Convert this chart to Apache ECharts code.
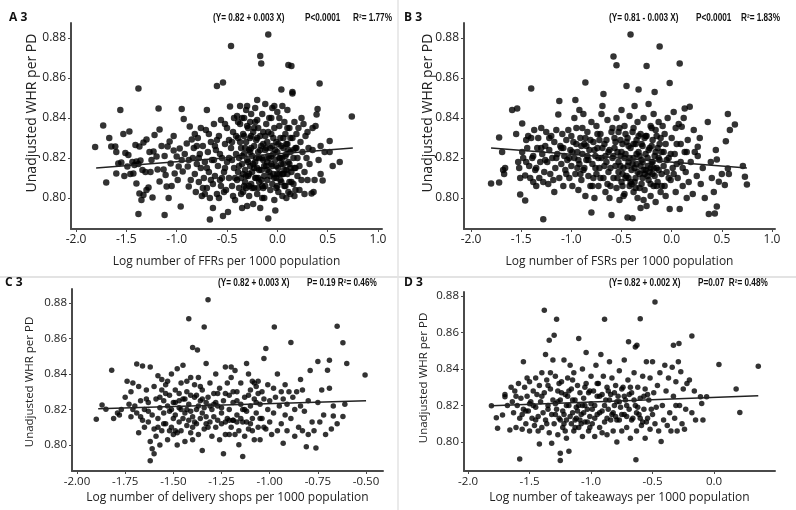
<!DOCTYPE html>
<html><head><meta charset="utf-8">
<script src="https://cdn.jsdelivr.net/npm/echarts@6/dist/echarts.min.js"></script>
<style>html,body{margin:0;padding:0;background:#fff}#c{width:796px;height:510px}</style>
</head><body><div id="c"></div>
<script>
// Panel A: log FFRs per 1000 population vs unadjusted WHR
const ffrPoints = [
[-1.81,0.8255],[-1.73,0.8362],[-1.70,0.8078],[-1.67,0.8300],[-1.65,0.8257],[-1.61,0.8257],[-1.60,0.8230],[-1.58,0.8173],[-1.60,0.8123],[-1.55,0.8177],[-1.56,0.8440],[-1.53,0.8320],[-1.51,0.8225],[-1.49,0.8157],[-1.48,0.8215],[-1.47,0.8332],[-1.44,0.8180],[-1.42,0.8165],[-1.40,0.8183],[-1.38,0.8548],[-1.38,0.8170],[-1.36,0.8187],[-1.43,0.8123],[-1.40,0.8073],[-1.37,0.8023],[-1.35,0.7990],[-1.33,0.8015],[-1.38,0.7920],[-1.30,0.8040],[-1.28,0.8053],[-1.24,0.8002],[-1.41,0.8265],[-1.37,0.8257],[-1.33,0.8277],[-1.30,0.8293],[-1.25,0.8190],[-1.23,0.8232],[-1.20,0.8207],[-1.22,0.8315],[-1.18,0.8447],[-1.17,0.8343],[-1.19,0.8143],[-1.17,0.8082],[-1.13,0.8143],[-1.12,0.7915],[-1.12,0.8210],[-1.11,0.8115],[-1.10,0.8057],[-1.09,0.8257],[-1.07,0.8282],[-1.06,0.8173],[-1.03,0.8237],[-1.03,0.8310],[-1.02,0.8123],[-1.00,0.8207],[-0.99,0.8090],[-0.98,0.8157],[-0.97,0.8248],[-0.96,0.7957],[-0.95,0.8445],[-0.95,0.8190],[-0.94,0.8132],[-0.93,0.8395],[-0.92,0.8220],[-0.90,0.8273],[-0.89,0.8157],[-0.88,0.8057],[-0.87,0.8357],[-0.86,0.8090],[-0.85,0.8293],
[-1.52,0.8110],[-1.46,0.8120],[-1.31,0.8130],[-1.27,0.8230],[-1.15,0.8260],[-1.08,0.8000],[-1.05,0.8060],[-1.26,0.8130],[-1.34,0.8140],
[-0.84,0.8200],[-0.83,0.8250],[-0.82,0.8120],[-0.81,0.8030],[-0.80,0.8170],[-0.79,0.8300],[-0.78,0.8080],[-0.77,0.8220],[-0.76,0.8150],[-0.75,0.8010],[-0.74,0.8260],[-0.73,0.8100],[-0.72,0.8180],[-0.71,0.8340],[-0.70,0.8050],[-0.70,0.8440],[-0.69,0.8230],[-0.68,0.8130],[-0.67,0.7893],[-0.67,0.8000],[-0.66,0.8280],[-0.65,0.8190],[-0.64,0.8070],[-0.64,0.7950],[-0.63,0.8370],[-0.62,0.8110],[-0.61,0.8240],[-0.60,0.8560],[-0.60,0.8020],[-0.59,0.8160],[-0.58,0.8310],[-0.57,0.8090],[-0.56,0.8390],[-0.55,0.8200],[-0.54,0.8578],[-0.54,0.7910],[-0.53,0.8130],[-0.52,0.8270],[-0.51,0.8040],[-0.50,0.8350],[-0.50,0.8180],[-0.49,0.7930],[-0.48,0.8100],[-0.47,0.8457],[-0.46,0.8760],[-0.46,0.8250],[-0.45,0.8060],[-0.44,0.8330],[-0.43,0.8150],[-0.42,0.7990],[-0.41,0.8220],[-0.40,0.8410],[-0.40,0.8090],[-0.76,0.8350],[-0.72,0.8020],[-0.68,0.8320],[-0.62,0.8260],[-0.58,0.8000],[-0.55,0.8100],[-0.52,0.8370],[-0.48,0.8290],[-0.44,0.8010],[-0.80,0.8260],[-0.66,0.8090],[-0.57,0.8220],[-0.53,0.8030],[-0.45,0.8190],[-0.43,0.8400],
[-0.39,0.8130],[-0.39,0.8300],[-0.38,0.8200],[-0.38,0.8050],[-0.37,0.8460],[-0.37,0.8370],[-0.36,0.8250],[-0.36,0.8100],[-0.35,0.7950],[-0.35,0.8170],[-0.34,0.8320],[-0.34,0.8030],[-0.33,0.8220],[-0.33,0.8400],[-0.32,0.8140],[-0.32,0.8080],[-0.31,0.8280],[-0.30,0.8460],[-0.30,0.8190],[-0.30,0.7960],[-0.29,0.8350],[-0.29,0.8110],[-0.28,0.8240],[-0.28,0.8010],[-0.27,0.8160],[-0.27,0.8300],[-0.26,0.8420],[-0.26,0.8070],[-0.25,0.8210],[-0.25,0.8130],[-0.24,0.8330],[-0.24,0.7970],[-0.23,0.8260],[-0.23,0.8050],[-0.22,0.8180],[-0.22,0.8380],[-0.21,0.8100],[-0.21,0.8290],[-0.20,0.8490],[-0.20,0.8150],[-0.20,0.8020],[-0.19,0.8230],[-0.19,0.8350],[-0.18,0.8080],[-0.18,0.8200],[-0.17,0.8710],[-0.17,0.8310],[-0.17,0.7950],[-0.16,0.8673],[-0.16,0.8140],[-0.16,0.8260],[-0.15,0.8420],[-0.15,0.8060],[-0.14,0.8190],[-0.14,0.8330],[-0.13,0.8110],[-0.13,0.8000],[-0.12,0.8240],[-0.12,0.8470],[-0.11,0.8160],[-0.11,0.8370],[-0.10,0.8090],[-0.10,0.8280],[-0.09,0.8818],[-0.09,0.8210],[-0.09,0.7898],[-0.08,0.8130],[-0.08,0.8400],[-0.07,0.8040],[-0.07,0.8250],[-0.06,0.8320],[-0.06,0.8170],[-0.05,0.8070],[-0.05,0.8450],[-0.04,0.8220],[-0.04,0.8120],[-0.03,0.8350],[-0.03,0.7990],[-0.02,0.7937],[-0.02,0.8190],[-0.01,0.8280],[-0.01,0.8100],[0.00,0.8430],[0.00,0.8230],[0.01,0.8150],[0.01,0.8030],[0.02,0.8360],[0.02,0.8200],[0.03,0.8090],[0.03,0.8300],[0.04,0.8543],[0.04,0.8170],[0.05,0.8460],[0.05,0.8010],[0.06,0.8250],[0.06,0.8120],[0.07,0.8380],[0.07,0.8060],[0.08,0.8210],[0.08,0.8320],[0.09,0.8140],[0.09,0.8000],[0.10,0.8270],[0.10,0.8440],[0.11,0.8665],[0.11,0.8180],[0.12,0.8080],[0.12,0.8350],[0.13,0.8230],[0.13,0.8020],[0.14,0.8660],[0.14,0.8130],[0.15,0.8530],[0.15,0.8300],[0.15,0.8523],[0.16,0.8200],[0.16,0.8070],[0.17,0.8380],[0.17,0.8150],[0.18,0.8250],[0.18,0.8040],[0.19,0.8320],[0.20,0.8110],[0.20,0.8200],[-0.35,0.8400],[-0.31,0.8050],[-0.27,0.8380],[-0.23,0.8150],[-0.14,0.8050],[-0.10,0.8180],[-0.05,0.8260],[0.00,0.8120],[0.04,0.8260],[0.09,0.8220],[0.13,0.8150],[-0.28,0.8120],[-0.19,0.8100],[-0.01,0.8050],[0.06,0.8170],
[-0.38,0.8160],[-0.37,0.8280],[-0.36,0.8020],[-0.35,0.8210],[-0.34,0.8120],[-0.33,0.8310],[-0.32,0.8250],[-0.31,0.8110],[-0.30,0.8360],[-0.29,0.8180],[-0.28,0.8060],[-0.27,0.8230],[-0.26,0.8310],[-0.25,0.8050],[-0.24,0.8170],[-0.23,0.8350],[-0.22,0.8100],[-0.21,0.8200],[-0.20,0.8300],[-0.19,0.8050],[-0.18,0.8140],[-0.17,0.8240],[-0.16,0.8090],[-0.15,0.8200],[-0.14,0.8270],[-0.13,0.8160],[-0.12,0.8060],[-0.11,0.8250],[-0.10,0.8140],[-0.09,0.8330],[-0.08,0.8200],[-0.07,0.8110],[-0.06,0.8210],[-0.05,0.8160],[-0.04,0.8300],[-0.03,0.8100],[-0.02,0.8240],[-0.01,0.8160],[0.00,0.8060],[0.01,0.8270],[0.02,0.8120],[0.03,0.8200],[0.04,0.8080],[0.05,0.8200],[0.06,0.8300],[0.07,0.8140],[0.08,0.8060],[0.09,0.8270],[0.10,0.8120],[0.11,0.8240],[0.12,0.8170],[0.13,0.8300],[0.14,0.8080],[0.16,0.8240],[0.17,0.8010],[0.18,0.8150],[0.19,0.8250],[-0.45,0.8280],[-0.42,0.8100],[-0.41,0.8310],[-0.48,0.8200],[-0.52,0.8150],[-0.56,0.8060],[-0.60,0.8290],[-0.63,0.8190],[-0.70,0.8150],[-0.74,0.8050],[-0.78,0.8200],[-0.82,0.8320],[-0.88,0.8190],[-0.39,0.8380],[-0.33,0.8060],[-0.26,0.8250],[-0.20,0.8390],[-0.12,0.8310],[-0.06,0.8400],[0.02,0.8400],[0.10,0.8350],[-0.03,0.8460],[-0.22,0.8450],[-0.31,0.8440],[-0.15,0.8000],[0.05,0.8120],[0.11,0.8030],
[0.21,0.8350],[0.22,0.8160],[0.23,0.8280],[0.24,0.8090],[0.25,0.8230],[0.26,0.8370],[0.27,0.8130],[0.27,0.8020],[0.28,0.8310],[0.29,0.8200],[0.30,0.8090],[0.31,0.8250],[0.32,0.8170],[0.34,0.8022],[0.35,0.8240],[0.35,0.8350],[0.37,0.8090],[0.38,0.8360],[0.39,0.8417],[0.40,0.8445],[0.42,0.8573],[0.43,0.8120],[0.45,0.8087],[0.43,0.8260],[0.47,0.8230],[0.52,0.8285],[0.52,0.8230],[0.55,0.8160],[0.62,0.8180],[0.74,0.8408],[0.36,0.8030],[0.41,0.8190],[0.30,0.8330],[0.24,0.8400],[0.22,0.8040]
];
// Panel B: log FSRs per 1000 population
const fsrPoints = [
[-1.80,0.8073],[-1.72,0.8078],[-1.72,0.8303],[-1.69,0.8230],[-1.68,0.8140],[-1.67,0.8120],[-1.66,0.8150],[-1.59,0.8440],[-1.54,0.8447],[-1.55,0.8320],[-1.53,0.8180],[-1.52,0.8150],[-1.51,0.8100],[-1.51,0.8018],[-1.49,0.8373],[-1.49,0.8230],[-1.48,0.8200],[-1.46,0.8113],[-1.46,0.7988],[-1.45,0.8180],[-1.44,0.8250],[-1.42,0.8160],[-1.41,0.8100],[-1.40,0.8547],[-1.40,0.8300],[-1.39,0.8200],[-1.38,0.8080],[-1.37,0.8340],[-1.36,0.8140],[-1.35,0.8060],[-1.34,0.8250],[-1.33,0.8300],[-1.32,0.8100],[-1.31,0.8180],[-1.30,0.8350],[-1.29,0.8220],[-1.28,0.7894],[-1.28,0.8080],[-1.27,0.8130],[-1.26,0.8260],[-1.25,0.8330],[-1.24,0.8180],[-1.23,0.8070],[-1.22,0.8240],[-1.21,0.8120],[-1.20,0.8310],[-1.19,0.8200],[-1.18,0.8090],[-1.17,0.8280],[-1.16,0.8150],[-1.15,0.8340],[-1.14,0.8220],[-1.13,0.8418],[-1.12,0.8485],[-1.12,0.8100],[-1.11,0.8260],[-1.10,0.8170],[-1.09,0.8320],[-1.08,0.8060],[-1.07,0.8210],[-1.06,0.8140],[-1.05,0.8290],[-1.04,0.8190],[-1.03,0.8340],[-1.02,0.8100],[-1.01,0.8240],[-1.00,0.8160],[-1.00,0.8310],[-1.43,0.8310],[-1.26,0.8190],[-1.17,0.8030],[-1.10,0.8250],
[-0.99,0.8060],[-0.98,0.8280],[-0.97,0.8200],[-0.96,0.8490],[-0.96,0.8120],[-0.95,0.8350],[-0.94,0.8230],[-0.93,0.8040],[-0.92,0.8440],[-0.92,0.8170],[-0.91,0.8300],[-0.90,0.8090],[-0.89,0.8220],[-0.88,0.8420],[-0.88,0.8140],[-0.87,0.8270],[-0.86,0.8577],[-0.86,0.8010],[-0.85,0.8190],[-0.84,0.8330],[-0.83,0.8110],[-0.82,0.8240],[-0.81,0.8060],[-0.80,0.7928],[-0.80,0.8380],[-0.79,0.8170],[-0.78,0.8280],[-0.77,0.8000],[-0.76,0.8210],[-0.75,0.8120],[-0.75,0.8360],[-0.74,0.8250],[-0.73,0.8060],[-0.72,0.8150],[-0.71,0.8320],[-0.70,0.8200],[-0.69,0.8460],[-0.68,0.8100],[-0.68,0.8520],[-0.67,0.8270],[-0.66,0.8030],[-0.65,0.8180],[-0.64,0.8390],[-0.63,0.8130],[-0.62,0.8240],[-0.61,0.8060],[-0.60,0.7915],[-0.60,0.8330],[-0.94,0.8150],[-0.90,0.8260],[-0.84,0.8210],[-0.78,0.8100],[-0.72,0.8290],[-0.66,0.8210],[-0.62,0.8000],[-0.86,0.8300],[-0.70,0.8420],[-0.97,0.8400],
[-0.59,0.8200],[-0.58,0.8708],[-0.58,0.8100],[-0.57,0.8300],[-0.56,0.8160],[-0.55,0.8664],[-0.55,0.8400],[-0.55,0.8050],[-0.54,0.8230],[-0.53,0.8130],[-0.52,0.8350],[-0.52,0.7990],[-0.51,0.8210],[-0.50,0.8440],[-0.50,0.8080],[-0.49,0.8270],[-0.48,0.8150],[-0.47,0.8360],[-0.47,0.8020],[-0.46,0.8220],[-0.45,0.8560],[-0.45,0.8110],[-0.44,0.7903],[-0.44,0.8300],[-0.43,0.8180],[-0.42,0.8060],[-0.42,0.8410],[-0.41,0.8817],[-0.41,0.8250],[-0.40,0.8140],[-0.39,0.7899],[-0.39,0.8330],[-0.38,0.8200],[-0.38,0.8030],[-0.37,0.8460],[-0.36,0.8100],[-0.36,0.8270],[-0.35,0.8170],[-0.34,0.8380],[-0.34,0.8000],[-0.33,0.8542],[-0.33,0.8230],[-0.32,0.8120],[-0.31,0.8320],[-0.31,0.7950],[-0.30,0.8190],[-0.30,0.8070],[-0.29,0.8260],[-0.28,0.8400],[-0.28,0.8140],[-0.27,0.8040],[-0.26,0.8220],[-0.25,0.8660],[-0.25,0.8310],[-0.25,0.7960],[-0.24,0.8160],[-0.23,0.8470],[-0.23,0.8090],[-0.22,0.8250],[-0.21,0.8360],[-0.21,0.8010],[-0.20,0.8180],[-0.19,0.8120],[-0.19,0.8290],[-0.18,0.8420],[-0.18,0.8060],[-0.17,0.8530],[-0.17,0.8210],[-0.16,0.7980],[-0.16,0.8340],[-0.15,0.8150],[-0.14,0.8250],[-0.14,0.8080],[-0.13,0.8380],[-0.12,0.8758],[-0.12,0.8190],[-0.11,0.8030],[-0.11,0.8300],[-0.10,0.8120],[-0.10,0.8230],[-0.57,0.8250],[-0.53,0.8180],[-0.49,0.8120],[-0.46,0.8320],[-0.43,0.8260],[-0.40,0.8070],[-0.37,0.8150],[-0.35,0.8290],[-0.32,0.8210],[-0.29,0.8100],[-0.27,0.8300],[-0.24,0.8200],[-0.22,0.8130],[-0.20,0.8260],[-0.17,0.8110],[-0.15,0.8310],[-0.13,0.8200],[-0.51,0.8290],[-0.44,0.8160],[-0.38,0.8350],[-0.31,0.8160],[-0.26,0.8140],[-0.19,0.8180],[-0.48,0.8010],[-0.36,0.8050],[-0.28,0.7990],[-0.21,0.8070],
[-0.95,0.8270],[-0.93,0.8190],[-0.91,0.8120],[-0.89,0.8350],[-0.87,0.8150],[-0.85,0.8260],[-0.83,0.8190],[-0.81,0.8290],[-0.79,0.8060],[-0.77,0.8240],[-0.76,0.8150],[-0.74,0.8320],[-0.73,0.8200],[-0.71,0.8100],[-0.69,0.8250],[-0.67,0.8160],[-0.65,0.8290],[-0.64,0.8070],[-0.63,0.8230],[-0.61,0.8150],[-0.59,0.8350],[-0.58,0.8210],[-0.56,0.8280],[-0.54,0.8100],[-0.53,0.8330],[-0.51,0.8160],[-0.50,0.8230],[-0.49,0.8060],[-0.47,0.8200],[-0.46,0.8100],[-0.45,0.8280],[-0.43,0.8100],[-0.42,0.8200],[-0.41,0.8080],[-0.39,0.8170],[-0.38,0.8270],[-0.37,0.8080],[-0.35,0.8220],[-0.34,0.8130],[-0.33,0.8310],[-0.32,0.8050],[-0.30,0.8270],[-0.29,0.8180],[-0.27,0.8120],[-0.26,0.8310],[-0.24,0.8110],[-0.23,0.8240],[-0.21,0.8150],[-0.20,0.8350],[-0.18,0.8150],[-0.16,0.8230],[-0.15,0.8060],[-0.13,0.8140],[-0.12,0.8270],[-0.10,0.8060],[-0.08,0.8230],[-0.07,0.8320],[-0.05,0.8190],[-0.03,0.8100],[-0.01,0.8220],[0.02,0.8120],[0.05,0.8170],[0.09,0.8270],[0.11,0.8150],[0.15,0.8230],[-1.15,0.8200],[-1.08,0.8250],[-1.05,0.8120],[-1.22,0.8300],[-1.30,0.8250],[-1.38,0.8210],[-1.45,0.8290],[-1.35,0.8150],[-0.99,0.8230],[-1.02,0.8200],
[-0.09,0.8360],[-0.08,0.8160],[-0.07,0.8060],[-0.06,0.8270],[-0.05,0.8130],[-0.04,0.8400],[-0.03,0.8200],[-0.02,0.8575],[-0.02,0.7945],[-0.01,0.8090],[0.00,0.8300],[0.01,0.8150],[0.02,0.8430],[0.03,0.8220],[0.04,0.8030],[0.05,0.8270],[0.06,0.8100],[0.07,0.8370],[0.08,0.8672],[0.08,0.7945],[0.09,0.8180],[0.10,0.8356],[0.11,0.8060],[0.12,0.8400],[0.13,0.8447],[0.13,0.8230],[0.14,0.8130],[0.16,0.8290],[0.17,0.8080],[0.18,0.8456],[0.19,0.8180],[0.21,0.8020],[0.23,0.8230],[0.25,0.8110],[0.26,0.8256],[0.26,0.8210],[0.28,0.8300],[0.29,0.8070],[0.31,0.8150],[0.33,0.8000],[0.36,0.8380],[0.37,0.7920],[0.39,0.8180],[0.40,0.8100],[0.42,0.8030],[0.43,0.7923],[0.44,0.8240],[0.45,0.8193],[0.45,0.7957],[0.47,0.8081],[0.50,0.8120],[0.53,0.8065],[0.54,0.8284],[0.56,0.8148],[0.57,0.8120],[0.56,0.8420],[0.58,0.8340],[0.63,0.8368],[0.71,0.8160],[0.73,0.8106],[0.75,0.8068],[-0.06,0.8010],[0.04,0.8350],[0.15,0.8000],[0.22,0.8340]
];
// Panel C: log delivery shops per 1000 population
const deliveryPoints = [
[-1.90,0.8146],[-1.87,0.8226],[-1.85,0.8202],[-1.82,0.8422],[-1.81,0.8150],[-1.79,0.8180],[-1.77,0.8200],[-1.75,0.8270],[-1.74,0.8360],[-1.73,0.8230],[-1.72,0.8160],[-1.71,0.8350],[-1.70,0.8220],[-1.69,0.8456],[-1.69,0.8180],[-1.68,0.8070],[-1.67,0.8250],[-1.66,0.8445],[-1.66,0.8140],[-1.65,0.8200],[-1.64,0.8310],[-1.63,0.8130],[-1.63,0.8240],[-1.62,0.8440],[-1.62,0.8020],[-1.61,0.7979],[-1.61,0.8170],[-1.60,0.8330],[-1.60,0.7951],[-1.62,0.7912],[-1.60,0.8090],[-1.78,0.8170],[-1.72,0.8300],[-1.68,0.8330],[-1.65,0.8100],[-1.64,0.8260],
[-1.59,0.8260],[-1.59,0.8050],[-1.58,0.8390],[-1.58,0.8150],[-1.57,0.8210],[-1.57,0.8000],[-1.56,0.8310],[-1.56,0.8080],[-1.55,0.8250],[-1.55,0.8180],[-1.54,0.8340],[-1.54,0.8120],[-1.53,0.8220],[-1.53,0.8030],[-1.52,0.8280],[-1.52,0.8190],[-1.51,0.8400],[-1.51,0.8100],[-1.50,0.8240],[-1.50,0.8060],[-1.49,0.8170],[-1.49,0.8310],[-1.48,0.8430],[-1.48,0.8000],[-1.47,0.8210],[-1.47,0.8130],[-1.46,0.8350],[-1.46,0.8080],[-1.45,0.8260],[-1.45,0.8450],[-1.44,0.8180],[-1.44,0.8020],[-1.43,0.8300],[-1.43,0.8110],[-1.42,0.8712],[-1.42,0.8230],[-1.41,0.8070],[-1.41,0.8380],[-1.40,0.8550],[-1.40,0.8160],[-1.40,0.8030],[-1.39,0.8270],[-1.39,0.8340],[-1.38,0.8120],[-1.38,0.8200],[-1.37,0.8380],[-1.37,0.8060],[-1.375,0.8535],[-1.36,0.8250],[-1.36,0.8150],[-1.35,0.7970],[-1.35,0.8310],[-1.34,0.8665],[-1.34,0.8210],[-1.34,0.8090],[-1.33,0.8460],[-1.33,0.8160],[-1.32,0.8819],[-1.32,0.8270],[-1.31,0.8130],[-1.31,0.8350],[-1.30,0.8200],[-1.30,0.8050],[-1.56,0.8370],[-1.52,0.8080],[-1.49,0.8240],[-1.46,0.8200],[-1.43,0.8360],[-1.41,0.8190],[-1.38,0.8280],[-1.35,0.8180],[-1.32,0.8100],[-1.54,0.8290],[-1.50,0.8150],[-1.47,0.8290],[-1.44,0.8260],[-1.40,0.8100],[-1.36,0.8330],[-1.33,0.8240],[-1.58,0.8100],[-1.48,0.8070],[-1.42,0.8140],
[-1.57,0.8270],[-1.55,0.8120],[-1.53,0.8360],[-1.51,0.8200],[-1.49,0.8080],[-1.47,0.8250],[-1.45,0.8150],[-1.43,0.8200],[-1.41,0.8280],[-1.39,0.8130],[-1.37,0.8220],[-1.35,0.8260],[-1.33,0.8120],[-1.31,0.8220],[-1.29,0.8230],[-1.27,0.8290],[-1.25,0.8210],[-1.23,0.8130],[-1.21,0.8140],[-1.19,0.8300],[-1.17,0.8130],[-1.15,0.8150],[-1.13,0.8200],[-1.11,0.8280],[-1.09,0.8080],[-1.07,0.8240],[-1.05,0.8150],[-1.63,0.8190],[-1.67,0.8160],[-1.71,0.8200],
[-1.29,0.8290],[-1.29,0.8160],[-1.28,0.8100],[-1.28,0.8400],[-1.27,0.8220],[-1.26,0.8030],[-1.26,0.8320],[-1.25,0.8180],[-1.25,0.8120],[-1.24,0.7951],[-1.24,0.8250],[-1.23,0.8440],[-1.23,0.8060],[-1.22,0.8350],[-1.22,0.8150],[-1.21,0.8280],[-1.21,0.8200],[-1.20,0.8440],[-1.20,0.8100],[-1.20,0.8380],[-1.19,0.8140],[-1.19,0.8240],[-1.18,0.8060],[-1.18,0.8420],[-1.17,0.8300],[-1.17,0.8170],[-1.16,0.8080],[-1.16,0.8002],[-1.15,0.8230],[-1.15,0.8350],[-1.14,0.7936],[-1.14,0.8130],[-1.13,0.8270],[-1.13,0.8050],[-1.12,0.8460],[-1.12,0.8190],[-1.11,0.8400],[-1.11,0.8090],[-1.10,0.8310],[-1.10,0.8220],[-1.09,0.8150],[-1.09,0.8360],[-1.08,0.8030],[-1.08,0.8260],[-1.07,0.8180],[-1.07,0.8330],[-1.06,0.8100],[-1.06,0.8360],[-1.05,0.8230],[-1.05,0.8030],[-1.04,0.8300],[-1.04,0.8150],[-1.03,0.8488],[-1.03,0.8260],[-1.02,0.8544],[-1.02,0.8090],[-1.01,0.8200],[-1.01,0.8340],[-1.00,0.8130],[-1.00,0.8250],[-1.27,0.8140],[-1.23,0.8290],[-1.19,0.8140],[-1.14,0.8200],[-1.10,0.8120],[-1.06,0.8290],[-1.28,0.8240],[-1.21,0.8060],[-1.17,0.8250],[-1.12,0.8130],[-1.08,0.8350],[-1.03,0.8100],
[-0.99,0.8060],[-0.98,0.8320],[-0.98,0.8180],[-0.976,0.8665],[-0.97,0.8270],[-0.96,0.8080],[-0.96,0.8400],[-0.95,0.8220],[-0.94,0.8300],[-0.94,0.8120],[-0.93,0.8010],[-0.93,0.8260],[-0.92,0.8170],[-0.92,0.8340],[-0.91,0.8080],[-0.91,0.8230],[-0.90,0.8300],[-0.89,0.8578],[-0.89,0.8150],[-0.88,0.8270],[-0.87,0.8050],[-0.87,0.8200],[-0.86,0.8300],[-0.85,0.8100],[-0.84,0.8370],[-0.84,0.8220],[-0.83,0.8080],[-0.83,0.8310],[-0.82,0.8190],[-0.81,0.7990],[-0.80,0.8060],[-0.80,0.8250],[-0.79,0.8420],[-0.78,0.8130],[-0.77,0.8080],[-0.76,0.7983],[-0.75,0.8240],[-0.75,0.8470],[-0.74,0.8130],[-0.73,0.8310],[-0.72,0.8170],[-0.71,0.8060],[-0.70,0.8422],[-0.69,0.8478],[-0.69,0.8320],[-0.68,0.8090],[-0.67,0.8164],[-0.67,0.8220],[-0.65,0.8120],[-0.65,0.8669],[-0.62,0.8576],[-0.62,0.8161],[-0.61,0.8230],[-0.60,0.8460],[-0.505,0.8394]
];
// Panel D: log takeaways per 1000 population
const takeawayPoints = [
[-1.81,0.8199],[-1.77,0.8133],[-1.76,0.8075],[-1.72,0.8148],[-1.70,0.8248],[-1.70,0.8260],[-1.68,0.8200],[-1.66,0.8066],[-1.65,0.8300],[-1.64,0.8220],[-1.63,0.8160],[-1.62,0.8280],[-1.61,0.8080],[-1.60,0.8200],[-1.59,0.8320],[-1.58,0.7907],[-1.58,0.8130],[-1.57,0.8240],[-1.56,0.8070],[-1.55,0.8440],[-1.55,0.8180],[-1.54,0.8300],[-1.53,0.8100],[-1.52,0.8250],[-1.51,0.8170],[-1.50,0.8330],[-1.50,0.8060],[-1.49,0.8220],[-1.48,0.8130],[-1.47,0.8280],[-1.46,0.8090],[-1.45,0.8350],[-1.45,0.8190],[-1.44,0.8260],[-1.43,0.8140],[-1.42,0.7989],[-1.42,0.8310],[-1.41,0.8220],[-1.40,0.8380],[-1.40,0.8080],[-1.61,0.8250],[-1.56,0.8150],[-1.52,0.8350],[-1.47,0.8200],[-1.43,0.8060],
[-1.39,0.8160],[-1.38,0.8722],[-1.38,0.8270],[-1.37,0.8480],[-1.37,0.8120],[-1.36,0.8340],[-1.35,0.8200],[-1.34,0.8558],[-1.34,0.8050],[-1.33,0.8290],[-1.32,0.7993],[-1.32,0.8150],[-1.31,0.8450],[-1.31,0.8230],[-1.30,0.8585],[-1.30,0.8100],[-1.29,0.8360],[-1.28,0.8672],[-1.28,0.8180],[-1.27,0.8040],[-1.27,0.8280],[-1.26,0.8130],[-1.25,0.7898],[-1.25,0.7938],[-1.25,0.8230],[-1.24,0.8330],[-1.23,0.8080],[-1.23,0.8170],[-1.22,0.8450],[-1.21,0.8260],[-1.20,0.8120],[-1.20,0.8020],[-1.19,0.8350],[-1.18,0.7949],[-1.18,0.8200],[-1.17,0.8420],[-1.16,0.8100],[-1.16,0.8290],[-1.15,0.8160],[-1.14,0.8060],[-1.14,0.8380],[-1.13,0.8230],[-1.12,0.8130],[-1.11,0.8310],[-1.10,0.8567],[-1.10,0.8080],[-1.10,0.8200],[-1.09,0.8270],[-1.08,0.8150],[-1.07,0.8400],[-1.07,0.8030],[-1.06,0.8240],[-1.05,0.8110],[-1.04,0.8490],[-1.04,0.8320],[-1.03,0.8180],[-1.02,0.8060],[-1.02,0.8270],[-1.01,0.8140],[-1.00,0.8360],[-1.00,0.8210],[-1.36,0.8100],[-1.33,0.8380],[-1.29,0.8210],[-1.26,0.8320],[-1.22,0.8150],[-1.19,0.8250],[-1.15,0.8340],[-1.12,0.8190],[-1.08,0.8100],[-1.05,0.8300],[-1.01,0.8080],[-1.35,0.8310],[-1.21,0.8060],[-1.13,0.8120],[-1.06,0.8160],
[-1.29,0.8150],[-1.27,0.8220],[-1.25,0.8120],[-1.24,0.8270],[-1.22,0.8100],[-1.20,0.8200],[-1.18,0.8280],[-1.17,0.8140],[-1.15,0.8230],[-1.13,0.8080],[-1.11,0.8170],[-1.09,0.8120],[-1.07,0.8200],[-1.05,0.8200],[-1.03,0.8110],[-1.01,0.8280],[-0.99,0.8180],[-0.97,0.8130],[-0.95,0.8320],[-0.93,0.8160],[-0.91,0.8260],[-0.89,0.8200],[-0.87,0.8130],[-0.85,0.8230],[-0.83,0.8150],[-0.81,0.8270],[-0.79,0.8120],[-0.77,0.8220],[-0.75,0.8150],[-0.73,0.8250],[-0.71,0.8140],[-0.69,0.8260],[-0.67,0.8120],[-0.65,0.8230],[-0.62,0.8190],[-0.60,0.8130],[-0.57,0.8250],[-0.55,0.8110],[-1.40,0.8250],[-1.45,0.8120],[-1.50,0.8210],[-1.53,0.8170],[-1.35,0.8180],
[-0.99,0.8100],[-0.98,0.8280],[-0.97,0.8030],[-0.97,0.8200],[-0.96,0.8420],[-0.95,0.8150],[-0.94,0.8320],[-0.93,0.8080],[-0.93,0.8250],[-0.92,0.8480],[-0.91,0.8170],[-0.90,0.8360],[-0.89,0.8672],[-0.89,0.8110],[-0.88,0.8230],[-0.87,0.8040],[-0.87,0.8300],[-0.86,0.8180],[-0.85,0.8440],[-0.84,0.8120],[-0.84,0.8260],[-0.83,0.8350],[-0.82,0.8060],[-0.81,0.8200],[-0.80,0.8140],[-0.80,0.8310],[-0.79,0.8000],[-0.78,0.8250],[-0.77,0.8390],[-0.77,0.8120],[-0.76,0.8190],[-0.75,0.8060],[-0.74,0.8300],[-0.73,0.8450],[-0.73,0.8150],[-0.72,0.8230],[-0.71,0.8080],[-0.70,0.8340],[-0.695,0.8549],[-0.69,0.8180],[-0.68,0.8020],[-0.67,0.8270],[-0.66,0.8130],[-0.65,0.8380],[-0.64,0.8520],[-0.64,0.8200],[-0.635,0.7902],[-0.63,0.8060],[-0.627,0.8530],[-0.62,0.8300],[-0.61,0.8150],[-0.60,0.8676],[-0.60,0.8240],[-0.59,0.8090],[-0.58,0.8360],[-0.57,0.8180],[-0.56,0.8020],[-0.56,0.8290],[-0.55,0.8440],[-0.54,0.8130],[-0.53,0.8230],[-0.52,0.8070],[-0.52,0.8350],[-0.51,0.8180],[-0.50,0.8440],[-0.49,0.8270],[-0.48,0.8767],[-0.48,0.8100],[-0.47,0.8190],[-0.46,0.8310],[-0.45,0.8060],[-0.43,0.8002],[-0.44,0.8380],[-0.95,0.8250],[-0.91,0.8050],[-0.86,0.8280],[-0.82,0.8160],[-0.79,0.8220],[-0.75,0.8290],[-0.71,0.8200],[-0.68,0.8300],[-0.63,0.8160],[-0.58,0.8110],[-0.54,0.8260],[-0.50,0.8150],
[-0.42,0.8200],[-0.41,0.8120],[-0.40,0.8420],[-0.39,0.8280],[-0.38,0.8090],[-0.37,0.8350],[-0.36,0.8160],[-0.35,0.8060],[-0.34,0.8410],[-0.33,0.8250],[-0.33,0.8530],[-0.32,0.8130],[-0.31,0.8330],[-0.30,0.8060],[-0.29,0.8440],[-0.285,0.8540],[-0.28,0.8200],[-0.27,0.8385],[-0.26,0.8100],[-0.25,0.8290],[-0.23,0.8180],[-0.22,0.8320],[-0.20,0.8340],[-0.18,0.8581],[-0.18,0.8160],[-0.15,0.8120],[-0.11,0.8248],[-0.10,0.8211],[-0.09,0.8120],[-0.06,0.8248],[0.04,0.8425],[0.18,0.8290],[0.21,0.8162],[0.36,0.8415],[-0.24,0.8070],[-0.16,0.8280],[-0.31,0.8200]
];
// Fitted regression line end points
const ffrFit = [[-1.80,0.8150],[0.75,0.8250]];
const fsrFit = [[-1.80,0.8250],[0.75,0.8150]];
const deliveryFit = [[-1.89,0.8205],[-0.50,0.8250]];
const takeawayFit = [[-1.81,0.8199],[0.36,0.8253]];
// Tick labels
const ticksX_AB = [-2.0,-1.5,-1.0,-0.5,0.0,0.5,1.0];
const ticksX_C = [-2.00,-1.75,-1.50,-1.25,-1.00,-0.75,-0.50];
const ticksX_D = [-2.0,-1.5,-1.0,-0.5,0.0];
const ticksY = [0.80,0.82,0.84,0.86,0.88];
// Text
const xTitles = ['Log number of FFRs per 1000 population','Log number of FSRs per 1000 population','Log number of delivery shops per 1000 population','Log number of takeaways per 1000 population'];
const yTitle = 'Unadjusted WHR per PD';
const panelLabels = ['A 3','B 3','C 3','D 3'];
const equations = ['(Y= 0.82 + 0.003 X)','(Y= 0.81 - 0.003 X)','(Y= 0.82 + 0.003 X)','(Y= 0.82 + 0.002 X)'];
const pValues = ['P<0.0001','P<0.0001','',''];
const rValues = ['R\u00b2= 1.77%','R\u00b2= 1.83%','P= 0.19 R\u00b2= 0.46%','P=0.07  R\u00b2= 0.48%'];

const FONT = "'Open Sans', 'Noto Sans', sans-serif";
const chart = echarts.init(document.getElementById('c'), null, {renderer:'canvas'});

const layout = [
  {grid:{left:71,top:23,width:311,height:206}, x:[-2.05,1.04], y:[0.7845,0.8875], xt:ticksX_AB, dec:1, fs:12, yfs:14, xgap:27, yt:[32,113]},
  {grid:{left:464,top:23,width:311,height:206}, x:[-2.07,1.03], y:[0.7845,0.8875], xt:ticksX_AB, dec:1, fs:12, yfs:14, xgap:27, yt:[428,113]},
  {grid:{left:72,top:289,width:311,height:182}, x:[-2.026,-0.412], y:[0.7854,0.8879], xt:ticksX_C, dec:2, fs:11.5, yfs:11.5, xgap:21, yt:[30,382]},
  {grid:{left:464,top:292,width:311,height:179}, x:[-2.033,0.496], y:[0.7841,0.8822], xt:ticksX_D, dec:1, fs:11.5, yfs:11.5, xgap:21, yt:[424,378]}
];
const pointSets = [ffrPoints, fsrPoints, deliveryPoints, takeawayPoints];
const fits = [ffrFit, fsrFit, deliveryFit, takeawayFit];
const axisLineStyle = {color:'#4a4a4a', width:2};

const grids = layout.map(l => l.grid);
const xAxes = layout.map((l,i) => ({
  type:'value', gridIndex:i, min:l.x[0], max:l.x[1],
  name:xTitles[i], nameLocation:'middle', nameGap:l.xgap, nameMoveOverlap:false,
  nameTextStyle:{fontFamily:FONT, fontSize:12, color:'#222'},
  axisLine:{show:true, onZero:false, lineStyle:axisLineStyle},
  axisTick:{show:true, length:3, customValues:l.xt, lineStyle:{color:'#4a4a4a', width:1}},
  axisLabel:{customValues:l.xt, margin:5, fontFamily:FONT, fontSize:l.fs, color:'#222', formatter:v=>Number(v).toFixed(l.dec)},
  splitLine:{show:false}
}));
const yAxes = layout.map((l,i) => ({
  type:'value', gridIndex:i, min:l.y[0], max:l.y[1],
  axisLine:{show:true, onZero:false, lineStyle:axisLineStyle},
  axisTick:{show:true, length:3, customValues:ticksY, lineStyle:{color:'#4a4a4a', width:1}},
  axisLabel:{customValues:ticksY, margin:5, fontFamily:FONT, fontSize:l.fs, color:'#222', formatter:v=>Number(v).toFixed(2)},
  splitLine:{show:false}
}));
const series = [];
pointSets.forEach((pts,i) => series.push({type:'scatter', xAxisIndex:i, yAxisIndex:i, data:pts, symbolSize: i<2?6.5:5.5, itemStyle:{color:'#000'}, silent:true}));
fits.forEach((f,i) => series.push({type:'line', xAxisIndex:i, yAxisIndex:i, data:f, symbol:'none', lineStyle:{color:'#222', width:1.5}, silent:true, z:5}));

const labelPos = [[9,18],[404,18],[5,283],[404,283]];
const eqPos = [[213,18],[609,18],[218,283],[609,283]];
const pPos = [[305,18],[696,18],null,null];
const rPos = [[353,18],[741,18],[307,283],[698,283]];
const annFont = "bold 10px 'Liberation Sans', Arial, sans-serif";
const annScale = 0.82;
const graphic = [
  {type:'line', shape:{x1:398,y1:0,x2:398,y2:510}, style:{stroke:'#e3e3e3', lineWidth:1.5}, silent:true},
  {type:'line', shape:{x1:0,y1:277,x2:796,y2:277}, style:{stroke:'#e3e3e3', lineWidth:2}, silent:true}
];
function ann(txt, pos){
  return {type:'text', x:pos[0], y:pos[1], scaleX:annScale, style:{text:txt, font:annFont, fill:'#111', textAlign:'left', textVerticalAlign:'middle'}};
}
for (let i=0;i<4;i++){
  graphic.push({type:'text', x:labelPos[i][0], y:labelPos[i][1], style:{text:panelLabels[i], font:"bold 12px "+FONT, fill:'#111', textAlign:'left', textVerticalAlign:'middle'}});
  graphic.push(ann(equations[i], eqPos[i]));
  if (pPos[i]) graphic.push(ann(pValues[i], pPos[i]));
  graphic.push(ann(rValues[i], rPos[i]));
  graphic.push({type:'text', x:layout[i].yt[0], y:layout[i].yt[1], rotation:Math.PI/2, style:{text:yTitle, font:layout[i].yfs+"px "+FONT, fill:'#222', textAlign:'center', textVerticalAlign:'middle'}});
}

chart.setOption({
  backgroundColor:'#fff', animation:false,
  grid:grids, xAxis:xAxes, yAxis:yAxes, series:series, graphic:graphic
});
</script></body></html>
